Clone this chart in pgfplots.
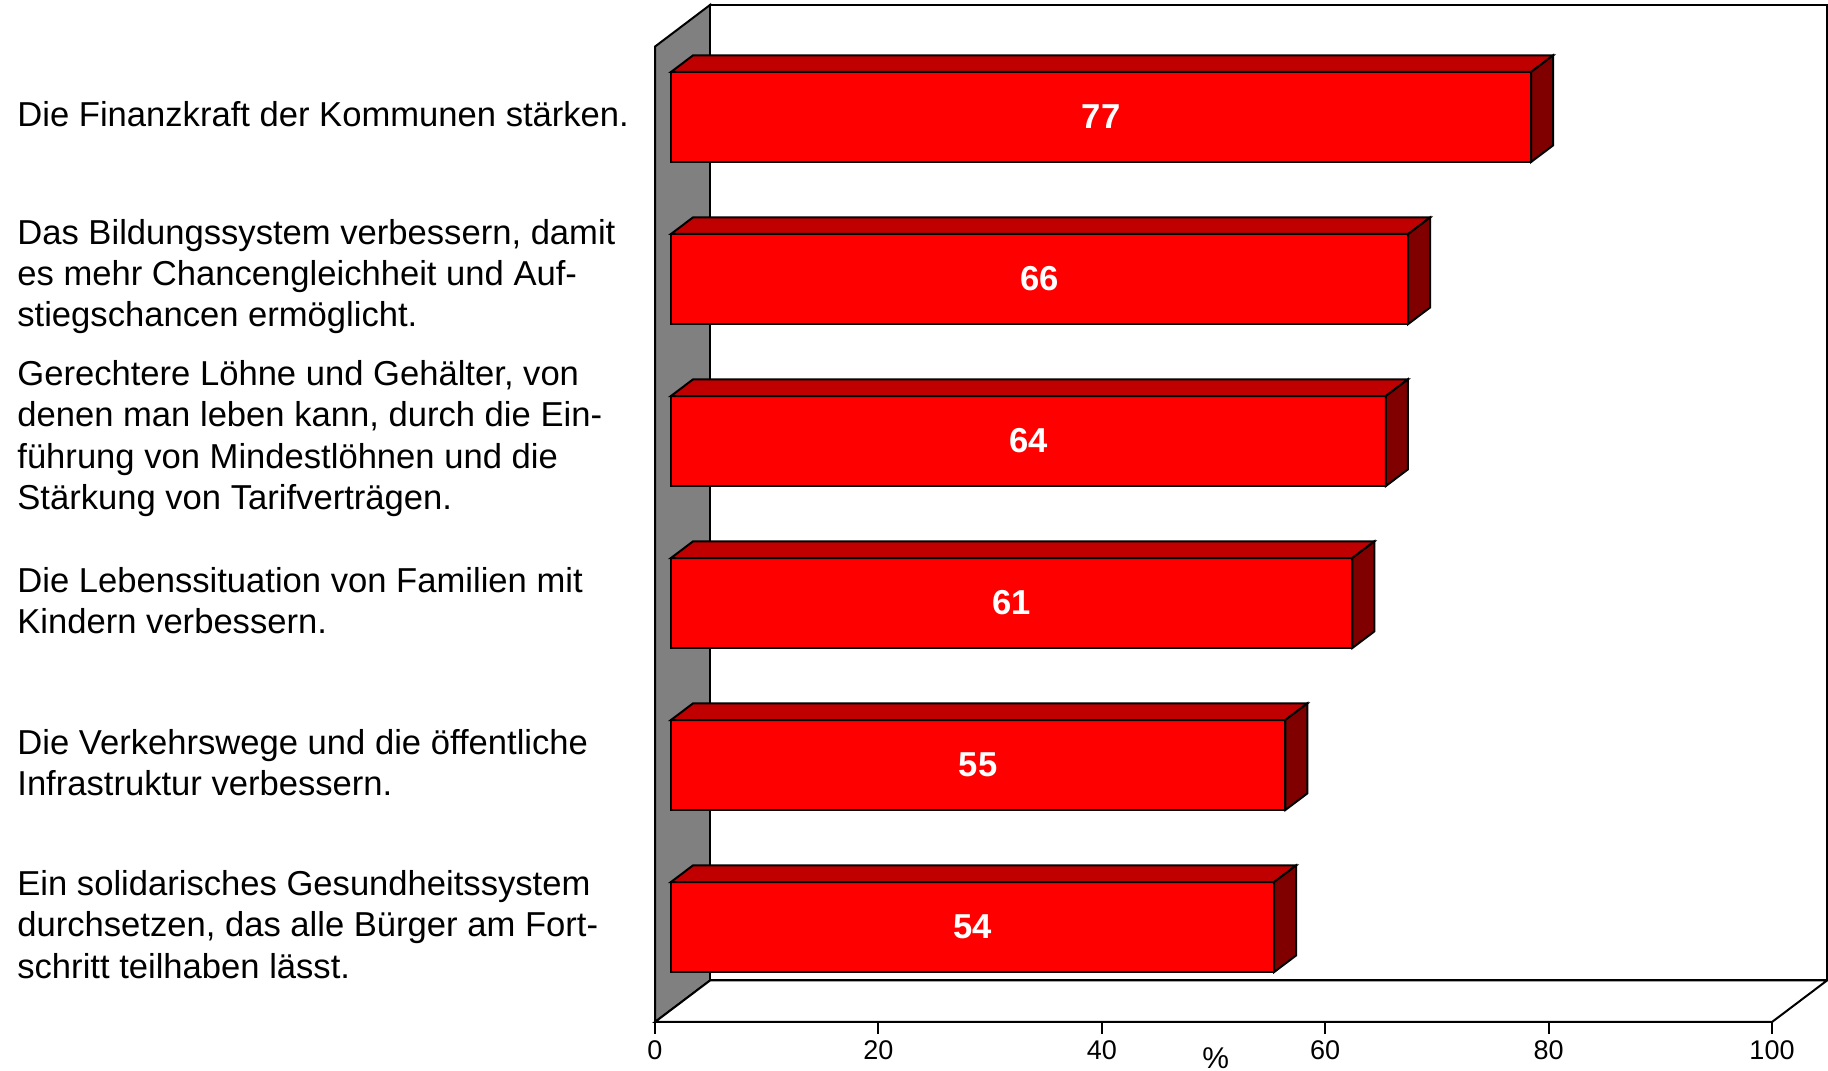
\documentclass[border=0pt]{standalone}
\usepackage{fontspec}
\setmainfont{Liberation Sans}
\usepackage{pgfplots}
\pgfplotsset{compat=1.18}

\definecolor{barfront}{HTML}{FF0000}
\definecolor{bartop}{HTML}{C00000}
\definecolor{barside}{HTML}{800000}
\definecolor{wallgray}{HTML}{808080}

\begin{document}
\begin{tikzpicture}
\path[use as bounding box] (0,0) rectangle (914pt,535.5pt);

% 3d frame: side wall, back wall, floor
\filldraw[fill=wallgray, draw=black, line width=1pt]
  (327.5pt,24.5pt) -- (327.5pt,512.2pt) -- (355pt,533pt) -- (355pt,45.25pt) -- cycle;
\filldraw[fill=white, draw=black, line width=1pt]
  (355pt,45.25pt) rectangle (913.5pt,533pt);
\filldraw[fill=white, draw=black, line width=1pt]
  (327.5pt,24.5pt) -- (886pt,24.5pt) -- (913.5pt,45.25pt) -- (355pt,45.25pt) -- cycle;

% front axis with the value ticks
\begin{axis}[
  at={(327.5pt,24.5pt)}, anchor=south west,
  x=5.585pt, y=487.7pt,
  xmin=0, xmax=100, ymin=0, ymax=1,
  axis x line=bottom, axis y line=none,
  axis line style={-, line width=1pt},
  xtick={0,20,...,100},
  tick align=outside, major tick length=6pt,
  tick style={line width=1pt, black},
  /pgf/number format/assume math mode=true,
  xticklabel style={font=\fontsize{13.5}{16}\selectfont},
  xlabel={\%},
  xlabel style={at={(axis description cs:0.502,0)}, anchor=center, yshift=-18pt,
    font=\fontsize{15}{18}\selectfont},
]
\end{axis}

% bars, set back from the front plane
\begin{axis}[
  at={(335.5pt,30.5pt)}, anchor=south west,
  x=5.585pt, y=81pt,
  xmin=0, xmax=100, ymin=0.4877, ymax=6.5,
  clip=false,
  axis line style={draw=none},
  xtick=\empty,
  ytick={1,...,6},
  ytick style={draw=none},
  /pgf/number format/assume math mode=true,
  yticklabels={
    {Ein solidarisches Gesundheitssystem\\durchsetzen, das alle Bürger am Fort-\\schritt teilhaben lässt.},
    {Die Verkehrswege und die öffentliche\\Infrastruktur verbessern.},
    {Die Lebenssituation von Familien mit\\Kindern verbessern.},
    {Gerechtere Löhne und Gehälter, von\\denen man leben kann, durch die Ein-\\führung von Mindestlöhnen und die\\Stärkung von Tarifverträgen.},
    {Das Bildungssystem verbessern, damit\\es mehr Chancengleichheit und Auf-\\stiegschancen ermöglicht.},
    {Die Finanzkraft der Kommunen stärken.}
  },
  yticklabel style={anchor=west, align=left, inner sep=0pt, xshift=-327pt, yshift=1.2pt,
    font=\fontsize{17.3}{20.7}\selectfont},
]
% top and side faces of each bar
\addplot[only marks, scatter, mark=text, text mark={},
  visualization depends on={x \as \xv},
  scatter/@pre marker code/.code={
    \filldraw[fill=bartop, draw=black, line width=1pt]
      ({-\xv*5.585pt},22.5pt) -- ({-\xv*5.585pt+11pt},30.8pt) -- (11pt,30.8pt) -- (0pt,22.5pt) -- cycle;
    \filldraw[fill=barside, draw=black, line width=1pt]
      (0pt,22.5pt) -- (11pt,30.8pt) -- (11pt,-14.2pt) -- (0pt,-22.5pt) -- cycle;
  },
  scatter/@post marker code/.code={},
] coordinates {(54,1) (55,2) (61,3) (64,4) (66,5) (77,6)};
% front faces with the values
\addplot[xbar, bar width=45pt, fill=barfront, draw=black, line width=1pt,
  visualization depends on={x \as \xv},
  nodes near coords,
  nodes near coords style={anchor=center, xshift={-\xv*2.7925pt}, text=white,
    font=\fontsize{17.3}{20}\selectfont\bfseries},
] coordinates {(54,1) (55,2) (61,3) (64,4) (66,5) (77,6)};
\end{axis}
\end{tikzpicture}
\end{document}
